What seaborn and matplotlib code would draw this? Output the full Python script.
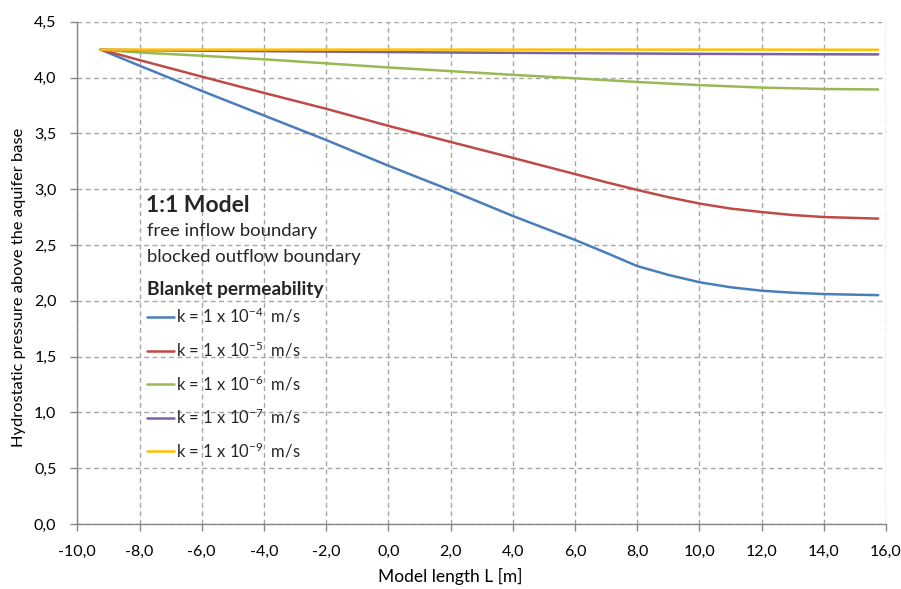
import numpy as np
import pandas as pd
import matplotlib
matplotlib.use("Agg")
import matplotlib.pyplot as plt
import seaborn as sns
from matplotlib.ticker import FuncFormatter

# ---------------- data ----------------
x_fine = [-9.25, -8, -6, -4, -2, 0, 2, 4, 6, 7, 8, 9, 10, 11, 12, 13, 14, 15.75]
x_coarse = [-9.25, -8, -6, -4, -2, 0, 2, 4, 6, 8, 10, 12, 14, 15.75]

k4 = [4.25, 4.106, 3.88, 3.66, 3.44, 3.21, 2.99, 2.76, 2.545, 2.43, 2.311, 2.232,
      2.166, 2.121, 2.09, 2.072, 2.06, 2.05]
k5 = [4.25, 4.156, 4.008, 3.862, 3.72, 3.567, 3.423, 3.28, 3.135, 3.062, 2.993, 2.928,
      2.871, 2.826, 2.795, 2.768, 2.75, 2.736]
k6 = [4.25, 4.224, 4.195, 4.163, 4.127, 4.09, 4.057, 4.024, 3.993, 3.96, 3.932,
      3.91, 3.897, 3.893]
k7 = [4.25, 4.245, 4.240, 4.236, 4.232, 4.228, 4.224, 4.221, 4.218, 4.215, 4.212,
      4.210, 4.208, 4.207]
k9 = [4.25, 4.25, 4.25, 4.25, 4.25, 4.25, 4.25, 4.25, 4.25, 4.25, 4.25, 4.25,
      4.249, 4.249]

labels = [r"k = 1 x 10$^{-4}$  m/s", r"k = 1 x 10$^{-5}$  m/s",
          r"k = 1 x 10$^{-6}$  m/s", r"k = 1 x 10$^{-7}$  m/s",
          r"k = 1 x 10$^{-9}$  m/s"]
colors = ["#4A7EBB", "#BE4B48", "#98B954", "#7D60A0", "#FFC000"]

x_ticks = [-10, -8, -6, -4, -2, 0, 2, 4, 6, 8, 10, 12, 14, 16]
y_ticks = [0, 0.5, 1, 1.5, 2, 2.5, 3, 3.5, 4, 4.5]

series = [(x_fine, k4), (x_fine, k5), (x_coarse, k6), (x_coarse, k7), (x_coarse, k9)]
frames = []
for lab, (xs, ys) in zip(labels, series):
    frames.append(pd.DataFrame({"x": xs, "y": ys, "series": lab}))
df = pd.concat(frames, ignore_index=True)

# ---------------- style ----------------
sns.set_theme(style="white")
plt.rcParams["font.family"] = ["Lato", "DejaVu Sans"]
plt.rcParams["mathtext.fontset"] = "custom"
plt.rcParams["mathtext.rm"] = "Lato"
plt.rcParams["mathtext.it"] = "Lato"
plt.rcParams["mathtext.bf"] = "Lato:bold"

W, H = 901, 589
fig = plt.figure(figsize=(W / 100, H / 100), dpi=100)
L, R, T, B = 77.3, 886.0, 21.7, 524.0
ax = fig.add_axes([L / W, 1 - B / H, (R - L) / W, (B - T) / H])

sns.lineplot(data=df, x="x", y="y", hue="series", hue_order=labels,
             palette=dict(zip(labels, colors)), linewidth=1.8, ax=ax,
             legend=False, sort=False, estimator=None)

ax.set_xlim(-10, 16)
ax.set_ylim(0, 4.5)
ax.set_xticks(x_ticks)
ax.set_yticks(y_ticks)
fmt = FuncFormatter(lambda v, p: f"{v:.1f}".replace(".", ","))
ax.xaxis.set_major_formatter(fmt)
ax.yaxis.set_major_formatter(fmt)

grid_col = "#A6A6A6"
ax.grid(True, color=grid_col, linestyle=(0, (3.5, 2.5)), linewidth=1.0)
ax.set_axisbelow(True)
for s in ["top", "right"]:
    ax.spines[s].set_visible(False)
for s in ["left", "bottom"]:
    ax.spines[s].set_color("#868686")
    ax.spines[s].set_linewidth(1.0)
ax.tick_params(axis="both", which="major", direction="out", length=5,
               width=1.0, color="#868686", labelsize=11.5, labelcolor="#000000",
               left=True, bottom=True)
ax.tick_params(axis="y", pad=10)
ax.tick_params(axis="x", pad=10)

ax.set_xlabel("Model length L [m]", fontsize=12.5, color="#000000")
ax.set_ylabel("Hydrostatic pressure above the aquifer base", fontsize=11.8,
              color="#000000")
# axis titles centred on the chart area, as in the reference
ax.xaxis.set_label_coords((450.5 - L) / (R - L), (B - 568) / (B - T))
ax.yaxis.set_label_coords((26 - L) / (R - L), (B - 287) / (B - T))

# ---------------- annotation block ----------------
def fx(px):
    return px / W

def fy(py):
    return 1 - py / H

fig.text(fx(146), fy(212), "1:1 Model", fontsize=16.5, fontweight="bold", va="baseline")
fig.text(fx(147), fy(236), "free inflow boundary", fontsize=13.3, va="baseline")
fig.text(fx(147), fy(262), "blocked outflow boundary", fontsize=13.3, va="baseline")
fig.text(fx(147), fy(295), "Blanket permeability", fontsize=13.8, fontweight="bold",
         va="baseline")

handles = ax.get_lines()[:5]
leg = ax.legend(handles, labels, loc="upper left",
                bbox_to_anchor=(fx(147), fy(306.5)), bbox_transform=fig.transFigure,
                frameon=False, fontsize=12, handlelength=1.6, handletextpad=0.12,
                labelspacing=0.85, borderpad=0, borderaxespad=0)

fig.savefig("out.png", dpi=100)
